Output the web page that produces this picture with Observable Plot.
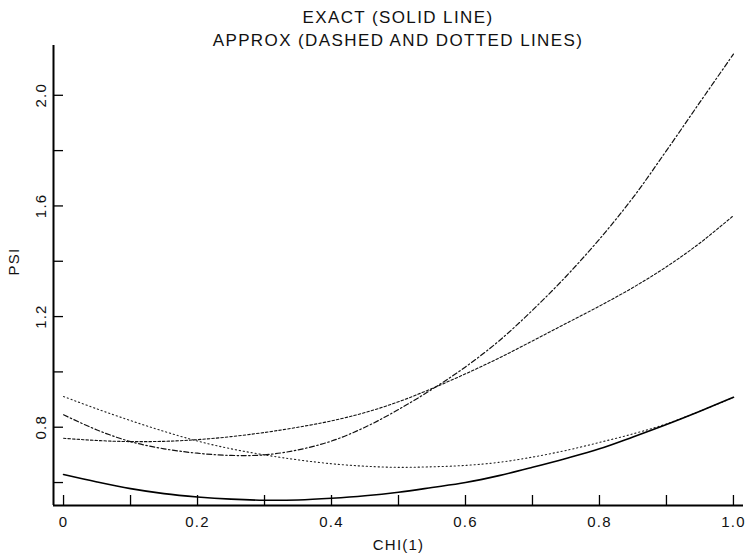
<!DOCTYPE html>
<html>
<head>
<meta charset="utf-8">
<script src="https://cdn.jsdelivr.net/npm/d3@7"></script>
<script src="https://cdn.jsdelivr.net/npm/@observablehq/plot@0.6"></script>
<style>
  html, body { margin: 0; padding: 0; background: #fff; }
  #wrap { position: relative; width: 748px; height: 557px; font-family: "Liberation Sans", Arial, sans-serif; color: #111; }
  #title { position: absolute; left: 398px; top: 6px; transform: translateX(-50%); text-align: center;
           font-size: 17px; line-height: 23px; letter-spacing: 1.4px; white-space: nowrap; z-index: 2; }
  #chart svg text { letter-spacing: 1.2px; }
</style>
</head>
<body>
<div id="wrap">
  <div id="title"></div>
  <div id="chart"></div>
</div>
<script>
// ---- data ----
const titleLines = ["EXACT (SOLID LINE)", "APPROX (DASHED AND DOTTED LINES)"];
const xLabel = "CHI(1)";
const yLabel = "PSI";

const chi = [0, 0.05, 0.1, 0.15, 0.2, 0.25, 0.3, 0.35, 0.4, 0.45, 0.5,
             0.55, 0.6, 0.65, 0.7, 0.75, 0.8, 0.85, 0.9, 0.95, 1.0];

// exact (solid)
const psiExact = [0.629, 0.602, 0.578, 0.560, 0.548, 0.540, 0.536, 0.537, 0.543, 0.552, 0.565,
                  0.582, 0.600, 0.625, 0.655, 0.687, 0.722, 0.765, 0.810, 0.858, 0.908];
// approx, sparse dotted (starts high, dips, rejoins exact)
const psiApproxDotted = [0.911, 0.866, 0.824, 0.785, 0.750, 0.722, 0.700, 0.682, 0.668, 0.659, 0.655,
                         0.657, 0.662, 0.673, 0.692, 0.716, 0.745, 0.776, 0.812, 0.858, 0.908];
// approx, dash-dot (steep rise)
const psiApproxDashDot = [0.845, 0.790, 0.748, 0.722, 0.706, 0.698, 0.700, 0.718, 0.750, 0.800, 0.864,
                          0.937, 1.018, 1.112, 1.223, 1.345, 1.480, 1.630, 1.800, 1.975, 2.149];
// approx, short dashes (flat start, rises to ~1.56)
const psiApproxDashed = [0.760, 0.752, 0.748, 0.749, 0.755, 0.766, 0.781, 0.800, 0.823, 0.853, 0.892,
                         0.940, 0.993, 1.050, 1.112, 1.175, 1.238, 1.305, 1.380, 1.466, 1.565];

const xTickValues = [0, 0.1, 0.2, 0.3, 0.4, 0.5, 0.6, 0.7, 0.8, 0.9, 1.0];
const xLabelValues = [0, 0.2, 0.4, 0.6, 0.8, 1.0];
const xLabelTexts = ["0", "0.2", "0.4", "0.6", "0.8", "1.0"];
const yTickValues = [0.6, 0.8, 1.0, 1.2, 1.4, 1.6, 1.8, 2.0];
const yLabelValues = [0.8, 1.2, 1.6, 2.0];
const yLabelTexts = ["0.8", "1.2", "1.6", "2.0"];

const xDomain = [-0.015, 1.015];
const yDomain = [0.517, 2.18];

// ---- layout ----
const W = 748, H = 557;
const mL = 53, mR = 5, mT = 45, mB = 52;
const frameW = W - mL - mR, frameH = H - mT - mB;

document.getElementById("title").innerHTML = titleLines.map(t => `<div>${t}</div>`).join("");

const rows = arr => chi.map((x, i) => ({x, y: arr[i]}));

const chart = Plot.plot({
  width: W,
  height: H,
  marginLeft: mL, marginRight: mR, marginTop: mT, marginBottom: mB,
  x: {domain: xDomain, axis: null},
  y: {domain: yDomain, axis: null},
  style: {fontFamily: "'Liberation Sans', Arial, sans-serif", fontSize: "15px", color: "#111", background: "#fff"},
  marks: [
    // axis lines
    Plot.ruleX([xDomain[0]], {stroke: "#000", strokeWidth: 2}),
    Plot.ruleY([yDomain[0]], {stroke: "#000", strokeWidth: 2}),
    // inward tick marks
    Plot.ruleX(xTickValues, {x: d => d, insetTop: frameH - 10, stroke: "#000", strokeWidth: 1.3}),
    Plot.ruleY(yTickValues, {y: d => d, insetRight: frameW - 10, stroke: "#000", strokeWidth: 1.3}),
    // tick labels
    Plot.text(xLabelValues, {x: d => d, text: (d, i) => xLabelTexts[i], frameAnchor: "bottom", dy: 17,
                             lineAnchor: "middle", fontSize: 15, fill: "#111"}),
    Plot.text(yLabelValues, {y: d => d, text: (d, i) => yLabelTexts[i], frameAnchor: "left", dx: -12,
                             rotate: -90, textAnchor: "middle", lineAnchor: "middle", fontSize: 15, fill: "#111"}),
    // axis titles
    Plot.text([xLabel], {text: d => d, frameAnchor: "bottom", dy: 40, lineAnchor: "middle", fontSize: 15, fill: "#111"}),
    Plot.text([yLabel], {text: d => d, frameAnchor: "left", dx: -39, rotate: -90, lineAnchor: "middle", fontSize: 15, fill: "#111"}),
    // curves
    Plot.line(rows(psiApproxDotted), {x: "x", y: "y", curve: "catmull-rom", stroke: "#222", strokeWidth: 1.1,
                                      strokeDasharray: "1.2,2.8"}),
    Plot.line(rows(psiApproxDashed), {x: "x", y: "y", curve: "catmull-rom", stroke: "#111", strokeWidth: 1.1,
                                      strokeDasharray: "2.5,2"}),
    Plot.line(rows(psiApproxDashDot), {x: "x", y: "y", curve: "catmull-rom", stroke: "#111", strokeWidth: 1.2,
                                       strokeDasharray: "5,2.5,1.5,2.5"}),
    Plot.line(rows(psiExact), {x: "x", y: "y", curve: "catmull-rom", stroke: "#000", strokeWidth: 1.6})
  ]
});
document.getElementById("chart").appendChild(chart);
</script>
</body>
</html>
